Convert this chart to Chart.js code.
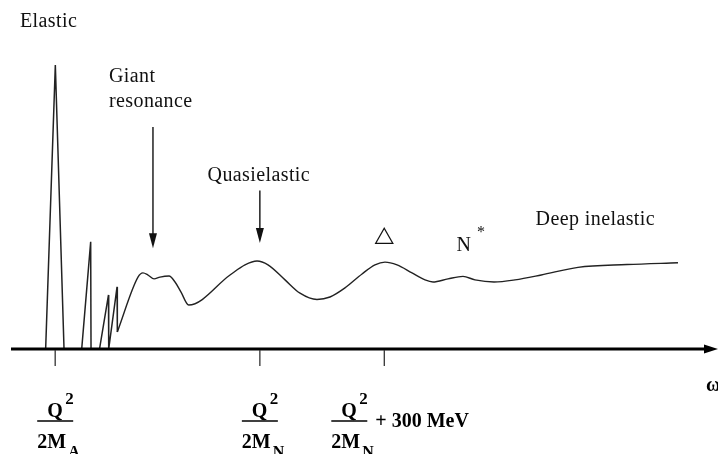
<!DOCTYPE html>
<html>
<head>
<meta charset="utf-8">
<script src="https://cdn.jsdelivr.net/npm/chart.js@4/dist/chart.umd.min.js"></script>
<style>
  html, body { margin: 0; padding: 0; background: #fff; }
  #wrap { width: 718px; height: 454px; }
</style>
</head>
<body>
<div id="wrap"><canvas id="chart" width="718" height="454"></canvas></div>
<script>
// ================================
// Data (energy transfer omega, arbitrary units 0..100; cross section, arbitrary)
// ================================
const spikeOmega = [4.9, 6.27, 7.5, 10.0, 11.27, 11.32, 12.52, 13.79, 13.82, 15.0, 15.04];
const spikeSigma = [0, 81.4, 0, 0, 30.7, 0, 0, 15.5, 0, 17.8, 4.9];

const contOmega = [15.04, 17.96, 18.67, 19.38, 20.23, 21.07, 22.35, 23.2, 24.05, 25.13,
                   30.98, 33.1, 34.8, 36.35, 38.76, 40.88, 43.28, 45.12, 47.24, 49.65,
                   51.48, 52.9, 54.6, 56.72, 58.56, 59.69, 61.81, 63.93, 65.63, 68.32,
                   71.29, 75.0, 80.2, 87.13, 94.34];
const contSigma = [4.9, 20.6, 21.8, 21.2, 20.1, 20.6, 20.9, 19.2, 16.3, 12.6,
                   21.2, 24.1, 25.2, 24.1, 19.8, 16.0, 14.2, 14.9, 17.5, 21.5,
                   24.1, 24.9, 24.1, 21.8, 19.8, 19.2, 20.1, 20.8, 19.8, 19.2,
                   19.8, 21.2, 23.4, 24.2, 24.7];

// axis ticks: Q^2/2M_A, Q^2/2M_N, Q^2/2M_N + 300 MeV
const tickOmega = [6.25, 35.2, 52.8];
const tickSub = ['A', 'N', 'N'];
const tickSuffix = ['', '', '+ 300 MeV'];

// text notes (omega, sigma)
const noteText = ['Elastic', 'Giant', 'resonance', 'Quasielastic', 'Deep inelastic'];
const noteOmega = [1.27, 13.86, 13.86, 27.8, 74.2];
const noteSigma = [93.7, 77.9, 70.8, 49.6, 37.0];

// down arrows (omega, from sigma, to sigma)
const arrowOmega = [20.08, 35.2];
const arrowFrom = [63.6, 45.4];
const arrowTo = [28.9, 30.4];

function pts(xs, ys) {
    return xs.map((x, i) => ({ x: x, y: ys[i] }));
}

// ================================
// Drawing of axis, labels and notes
// ================================
const decorations = {
    id: 'decorations',
    afterDatasetsDraw(chart) {
        const ctx = chart.ctx;
        const xs = chart.scales.x;
        const ys = chart.scales.y;
        const y0 = ys.getPixelForValue(0);
        const xL = xs.getPixelForValue(0);
        const xR = xs.getPixelForValue(100);
        ctx.save();

        // omega axis with arrow
        ctx.strokeStyle = '#000';
        ctx.fillStyle = '#000';
        ctx.lineWidth = 3;
        ctx.beginPath();
        ctx.moveTo(xL, y0);
        ctx.lineTo(xR - 10, y0);
        ctx.stroke();
        ctx.beginPath();
        ctx.moveTo(xR, y0);
        ctx.lineTo(xR - 14, y0 - 4.5);
        ctx.lineTo(xR - 14, y0 + 4.5);
        ctx.closePath();
        ctx.fill();

        ctx.font = 'bold 20px "Liberation Serif"';
        ctx.textBaseline = 'alphabetic';
        ctx.textAlign = 'left';
        ctx.fillText('\u03c9', xR - 12, y0 + 42);

        // ticks and fraction labels
        tickOmega.forEach((w, i) => {
            const px = xs.getPixelForValue(w);
            ctx.strokeStyle = '#333';
            ctx.lineWidth = 1.3;
            ctx.beginPath();
            ctx.moveTo(px, y0 + 1);
            ctx.lineTo(px, y0 + 17);
            ctx.stroke();

            const c = tickSuffix[i] ? px - 35 : px;
            ctx.fillStyle = '#000';
            ctx.font = 'bold 20px "Liberation Serif"';
            ctx.fillText('Q', c - 8, y0 + 68);
            ctx.font = 'bold 17px "Liberation Serif"';
            ctx.fillText('2', c + 10, y0 + 55);
            ctx.lineWidth = 1.4;
            ctx.strokeStyle = '#000';
            ctx.beginPath();
            ctx.moveTo(c - 18, y0 + 72);
            ctx.lineTo(c + 18, y0 + 72);
            ctx.stroke();
            ctx.font = 'bold 20px "Liberation Serif"';
            ctx.fillText('2M', c - 18, y0 + 99);
            ctx.font = 'bold 16px "Liberation Serif"';
            ctx.fillText(tickSub[i], c + 13, y0 + 108);
            if (tickSuffix[i]) {
                ctx.font = 'bold 20px "Liberation Serif"';
                ctx.fillText(tickSuffix[i], c + 26, y0 + 78);
            }
        });

        // notes
        ctx.fillStyle = '#111';
        ctx.font = '20px "Liberation Serif"';
        ctx.letterSpacing = '0.4px';
        ctx.textBaseline = 'middle';
        noteText.forEach((t, i) => {
            ctx.fillText(t, xs.getPixelForValue(noteOmega[i]), ys.getPixelForValue(noteSigma[i]));
        });
        ctx.letterSpacing = '0px';

        // Delta and N*
        ctx.save();
        ctx.translate(xs.getPixelForValue(52.8), ys.getPixelForValue(32.7));
        ctx.scale(1.15, 1);
        ctx.textAlign = 'center';
        ctx.font = '22px "DejaVu Sans"';
        ctx.fillText('\u25b3', 0, 0);
        ctx.restore();
        ctx.font = '20px "Liberation Serif"';
        ctx.fillText('N', xs.getPixelForValue(63.0), ys.getPixelForValue(29.5));
        ctx.font = '16px "Liberation Serif"';
        ctx.fillText('*', xs.getPixelForValue(65.9), ys.getPixelForValue(33.2));

        // arrows
        ctx.strokeStyle = '#111';
        ctx.fillStyle = '#111';
        arrowOmega.forEach((w, i) => {
            const px = xs.getPixelForValue(w);
            const ya = ys.getPixelForValue(arrowFrom[i]);
            const yb = ys.getPixelForValue(arrowTo[i]);
            ctx.lineWidth = 1.4;
            ctx.beginPath();
            ctx.moveTo(px, ya);
            ctx.lineTo(px, yb - 12);
            ctx.stroke();
            ctx.beginPath();
            ctx.moveTo(px, yb);
            ctx.lineTo(px - 4, yb - 15);
            ctx.lineTo(px + 4, yb - 15);
            ctx.closePath();
            ctx.fill();
        });

        ctx.restore();
    }
};

// ================================
// Chart
// ================================
new Chart(document.getElementById('chart'), {
    type: 'scatter',
    data: {
        datasets: [{
            label: 'Elastic and discrete levels',
            data: pts(spikeOmega, spikeSigma),
            showLine: true,
            borderColor: '#222',
            borderWidth: 1.5,
            pointRadius: 0,
            tension: 0,
            clip: false
        }, {
            label: 'Continuum',
            data: pts(contOmega, contSigma),
            showLine: true,
            borderColor: '#222',
            borderWidth: 1.4,
            pointRadius: 0,
            cubicInterpolationMode: 'monotone',
            clip: false
        }]
    },
    options: {
        responsive: false,
        animation: false,
        layout: { padding: { left: 11, right: 0, top: 0, bottom: 105 } },
        plugins: { legend: { display: false }, tooltip: { enabled: false } },
        scales: {
            x: { type: 'linear', min: 0, max: 100, display: false },
            y: { min: 0, max: 100, display: false }
        }
    },
    plugins: [decorations]
});
</script>
</body>
</html>
